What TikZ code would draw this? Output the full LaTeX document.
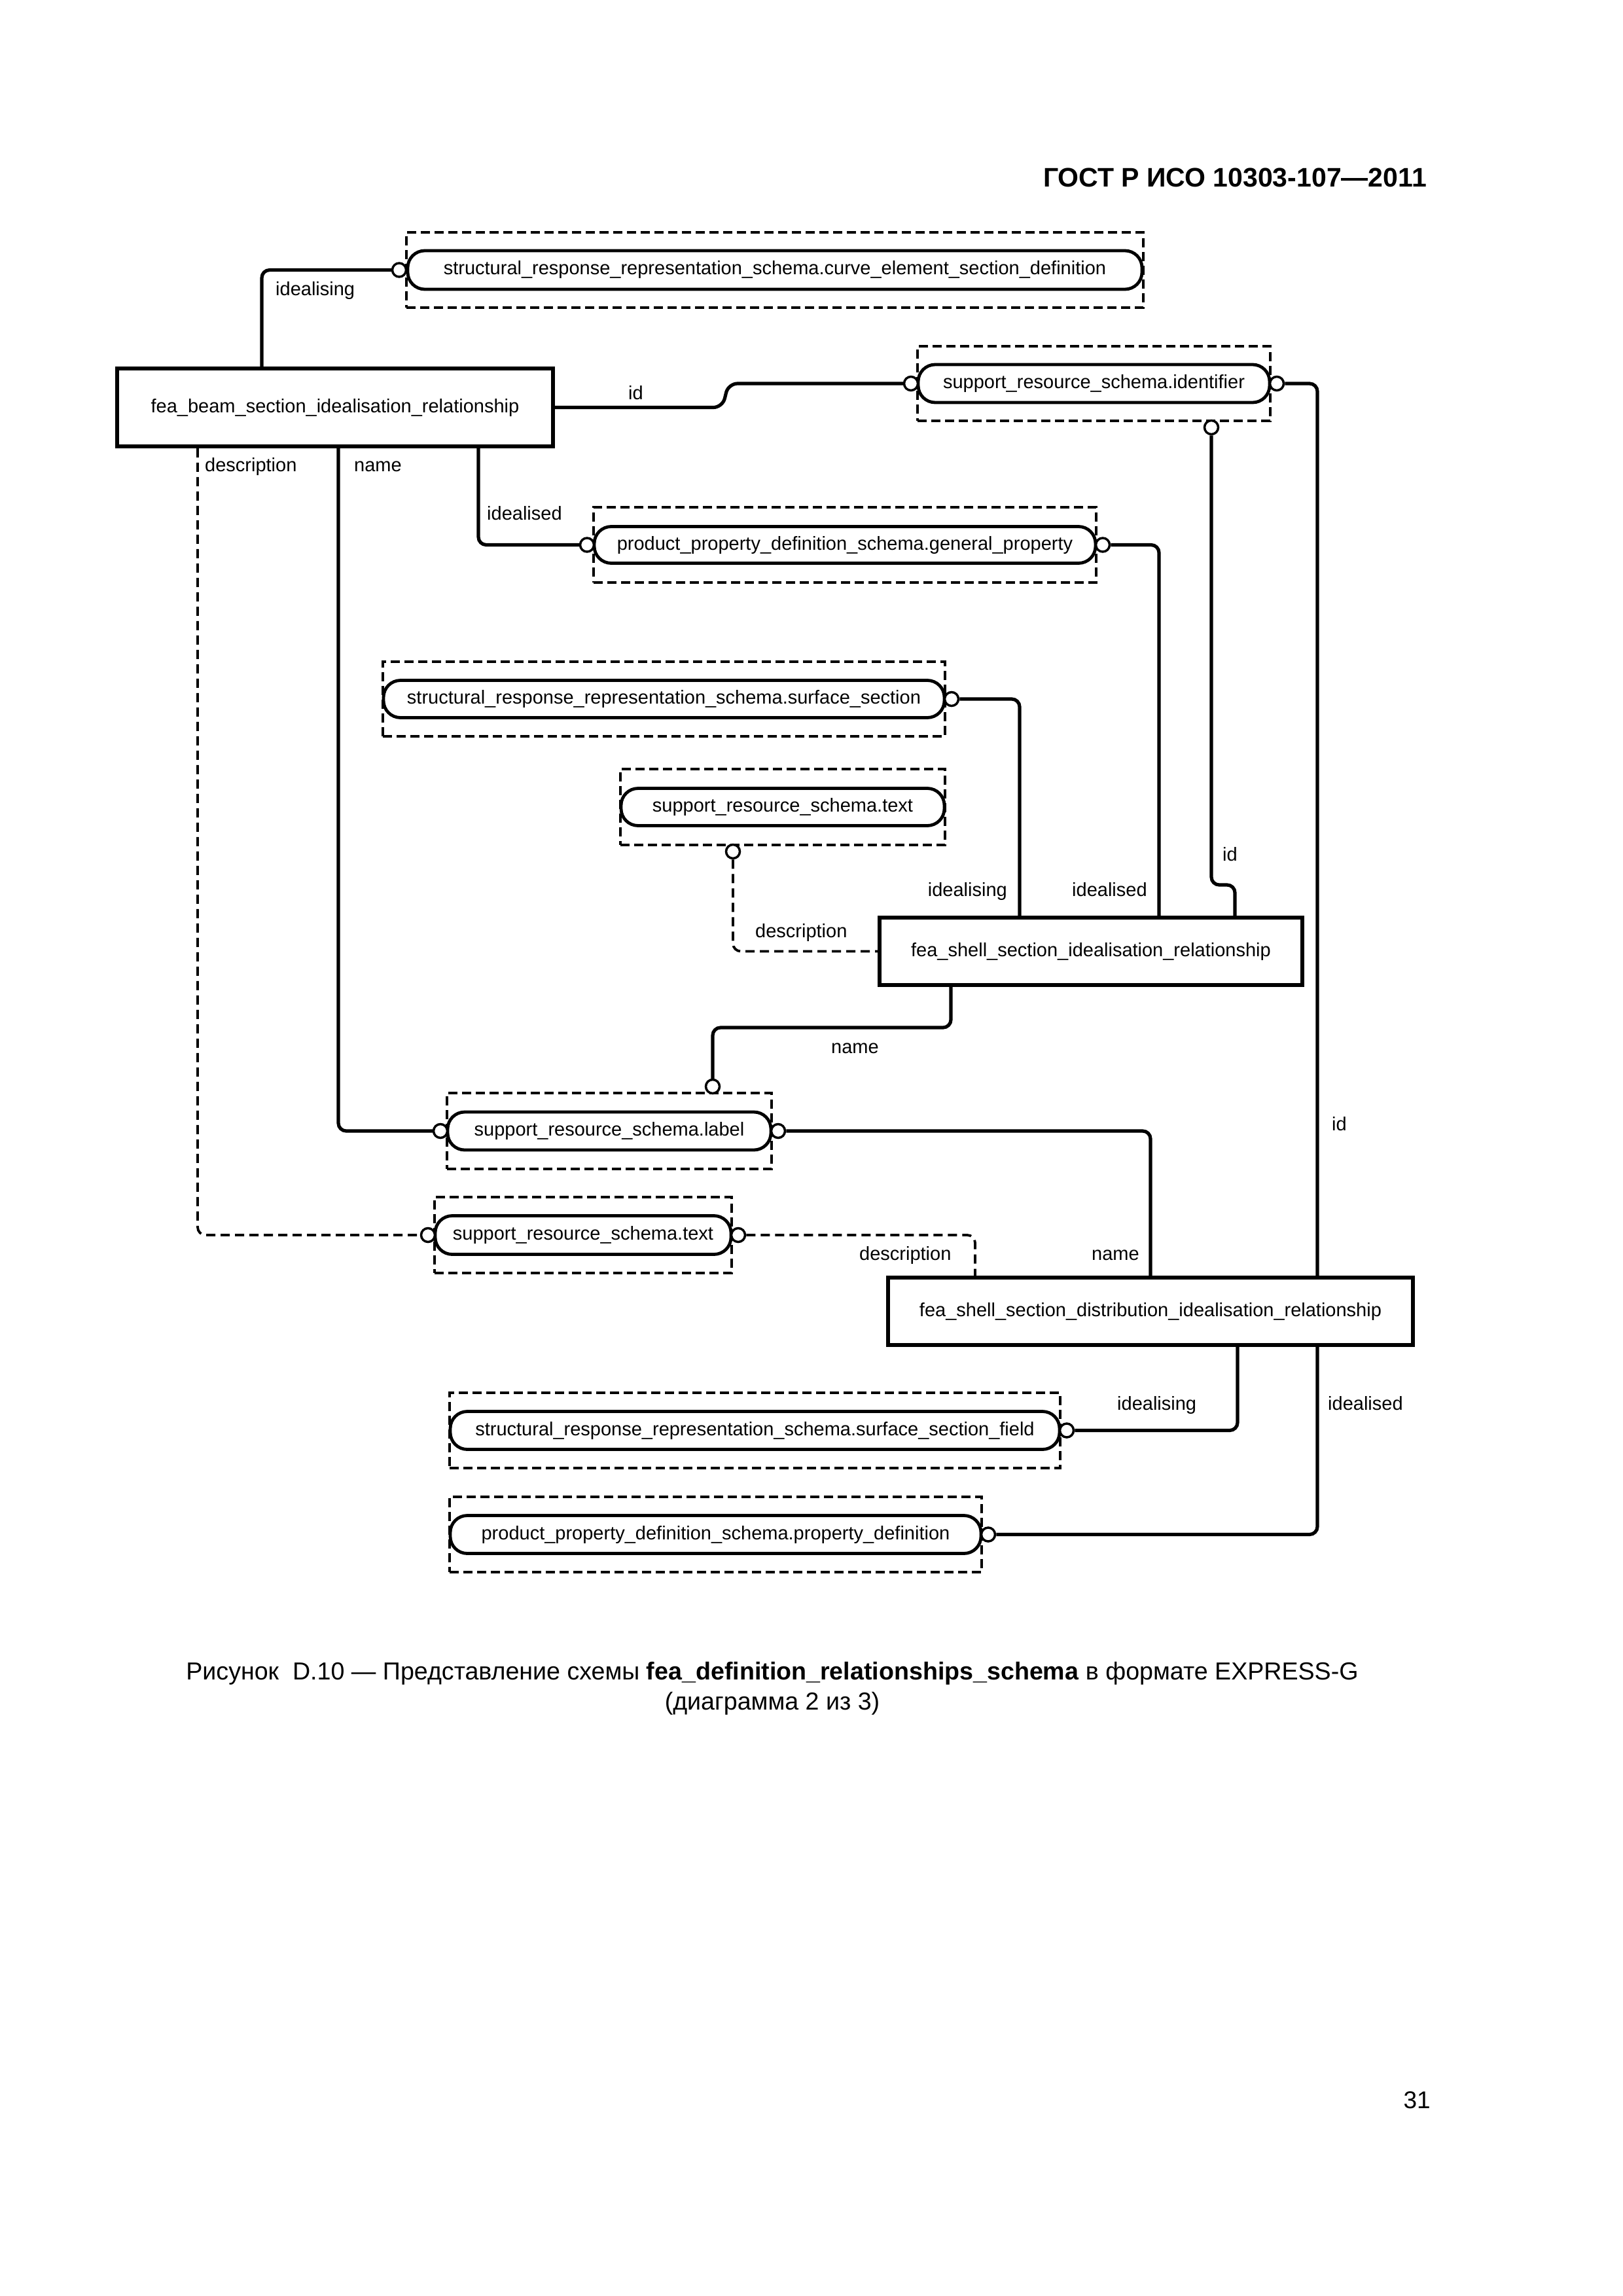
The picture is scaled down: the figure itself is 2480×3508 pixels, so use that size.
\documentclass[tikz,border=0pt]{standalone}
\usepackage{fontspec}
\setmainfont{Liberation Sans}
\newcommand{\dgfont}{\fontsize{29pt}{34pt}\selectfont}
\newcommand{\capfont}{\fontsize{37.6pt}{44pt}\selectfont}
\begin{document}
\begin{tikzpicture}[x=1pt,y=-1pt,
  entity/.style={draw, line width=5.5pt, fill=white, inner sep=0pt, font=\dgfont},
  schemabox/.style={draw, line width=3.2pt, dash pattern=on 14pt off 7pt, inner sep=0pt},
  pill/.style={draw, line width=4.8pt, rounded corners=26pt, fill=white, inner sep=0pt, font=\dgfont},
  ring/.style={circle, draw, line width=3.5pt, fill=white, minimum size=21pt, inner sep=0pt},
  conn/.style={line width=5.2pt, rounded corners=12pt},
  dconn/.style={conn, line width=3.8pt, dash pattern=on 14pt off 8pt},
  lab/.style={font=\dgfont, inner sep=0pt}]
\useasboundingbox (0,0) rectangle (2480,3508);

% header and page number
\node[anchor=base east, inner sep=0pt, font=\fontsize{41pt}{48pt}\selectfont\bfseries] (hdr) at (2180,285) {ГОСТ Р ИСО 10303-107—2011};
\node[anchor=base east, inner sep=0pt, font=\fontsize{37pt}{44pt}\selectfont] (pg) at (2186,3221) {31};

% entities
\node[entity, minimum width=666pt, minimum height=119pt] (B) at (512,622.5) {fea\_beam\_section\_idealisation\_relationship};
\node[entity, minimum width=646pt, minimum height=103pt] (S) at (1667,1453.5) {fea\_shell\_section\_idealisation\_relationship};
\node[entity, minimum width=802pt, minimum height=103pt] (D) at (1758,2003.5) {fea\_shell\_section\_distribution\_idealisation\_relationship};

% schema boxes (dashed) and referenced types (pills)
\node[schemabox, minimum width=1126pt, minimum height=115pt] (s1) at (1184,412.5) {};
\node[pill, minimum width=1122pt, minimum height=59pt] (p1) at (1184,412.5) {structural\_response\_representation\_schema.curve\_element\_section\_definition};

\node[schemabox, minimum width=539pt, minimum height=114pt] (s2) at (1671.5,586) {};
\node[pill, minimum width=537pt, minimum height=58pt] (p2) at (1671.5,586) {support\_resource\_schema.identifier};

\node[schemabox, minimum width=768pt, minimum height=115pt] (s3) at (1291,832.5) {};
\node[pill, minimum width=766pt, minimum height=56pt] (p3) at (1291,832.5) {product\_property\_definition\_schema.general\_property};

\node[schemabox, minimum width=859pt, minimum height=114pt] (s4) at (1014.5,1068) {};
\node[pill, minimum width=857pt, minimum height=57pt] (p4) at (1014.5,1068) {structural\_response\_representation\_schema.surface\_section};

\node[schemabox, minimum width=496pt, minimum height=116pt] (s5) at (1196,1233) {};
\node[pill, minimum width=494pt, minimum height=57pt] (p5) at (1196,1233) {support\_resource\_schema.text};

\node[schemabox, minimum width=496pt, minimum height=116pt] (s6) at (931,1728) {};
\node[pill, minimum width=494pt, minimum height=58pt] (p6) at (931,1728) {support\_resource\_schema.label};

\node[schemabox, minimum width=454pt, minimum height=116pt] (s7) at (891,1887) {};
\node[pill, minimum width=452pt, minimum height=59pt] (p7) at (891,1887) {support\_resource\_schema.text};

\node[schemabox, minimum width=933pt, minimum height=115pt] (s8) at (1153.5,2185.5) {};
\node[pill, minimum width=931pt, minimum height=58pt] (p8) at (1153.5,2185.5) {structural\_response\_representation\_schema.surface\_section\_field};

\node[schemabox, minimum width=813pt, minimum height=115pt] (s9) at (1093.5,2344.5) {};
\node[pill, minimum width=811pt, minimum height=58pt] (p9) at (1093.5,2344.5) {product\_property\_definition\_schema.property\_definition};

% rings
\node[ring] (r1) at (610,412.5) {};
\node[ring] (r2l) at (1392,586) {};
\node[ring] (r2r) at (1951,586) {};
\node[ring] (r2b) at (1851,653) {};
\node[ring] (r3l) at (897,832.5) {};
\node[ring] (r3r) at (1685,832.5) {};
\node[ring] (r4) at (1454,1068) {};
\node[ring] (r5) at (1120,1301) {};
\node[ring] (r6l) at (673,1728) {};
\node[ring] (r6r) at (1189,1728) {};
\node[ring] (r6t) at (1089,1660) {};
\node[ring] (r7l) at (654,1887) {};
\node[ring] (r7r) at (1128,1887) {};
\node[ring] (r8) at (1630,2185.5) {};
\node[ring] (r9) at (1510,2344.5) {};

% helper coordinates
\coordinate (k1) at (400,0);
\coordinate (k3) at (2013,0);
\coordinate (k4) at (1887,1352);
\coordinate (k5) at (731,0);
\coordinate (k6) at (1771,0);
\coordinate (k7) at (1558,0);
\coordinate (k9) at (1453,1570);
\coordinate (k10) at (517,0);
\coordinate (k11) at (1758,0);
\coordinate (k12) at (302,0);
\coordinate (k13) at (1490,0);
\coordinate (k14) at (1891,0);
\coordinate (j1) at (1104,622.5);
\coordinate (j2) at (1113,586);

% connectors
\draw[conn] (B.north -| k1) |- (r1.west);
\draw[conn, rounded corners=14pt] (B.east) -- (j1) -- (j2) -- (r2l.west);
\draw[conn] (r2r.east) -| (D.north -| k3);
\draw[conn] (r2b.south) |- (k4) -- (S.north -| k4);
\draw[conn] (B.south -| k5) |- (r3l.west);
\draw[conn] (r3r.east) -| (S.north -| k6);
\draw[conn] (r4.east) -| (S.north -| k7);
\draw[dconn] (r5.south) |- (S.west);
\draw[conn] (S.south -| k9) -- (k9) -| (r6t.north);
\draw[conn] (B.south -| k10) |- (r6l.west);
\draw[conn] (r6r.east) -| (D.north -| k11);
\draw[dconn] (B.south -| k12) |- (r7l.west);
\draw[dconn] (r7r.east) -| (D.north -| k13);
\draw[conn] (D.south -| k14) |- (r8.east);
\draw[conn] (D.south -| k3) |- (r9.east);

% connector labels
\node[lab, anchor=base west] (l1) at (421,451) {idealising};
\node[lab, anchor=base west] (l2) at (960,610) {id};
\node[lab, anchor=base west] (l3) at (313,720) {description};
\node[lab, anchor=base west] (l4) at (541,720) {name};
\node[lab, anchor=base west] (l5) at (744,794) {idealised};
\node[lab, anchor=base east] (l6) at (1539,1369) {idealising};
\node[lab, anchor=base west] (l7) at (1638,1369) {idealised};
\node[lab, anchor=base west] (l8) at (1868,1315) {id};
\node[lab, anchor=base west] (l9) at (1154,1432) {description};
\node[lab, anchor=base west] (l10) at (1270,1609) {name};
\node[lab, anchor=base west] (l11) at (2035,1727) {id};
\node[lab, anchor=base west] (l12) at (1313,1925) {description};
\node[lab, anchor=base west] (l13) at (1668,1925) {name};
\node[lab, anchor=base west] (l14) at (1707,2154) {idealising};
\node[lab, anchor=base west] (l15) at (2029,2154) {idealised};

% caption
\node[anchor=base, inner sep=0pt, font=\capfont] (cap1) at (1180,2566) {Рисунок~~D.10 — Представление схемы \textbf{fea\_definition\_relationships\_schema} в формате EXPRESS-G};
\node[anchor=base, inner sep=0pt, font=\capfont] (cap2) at (1180,2612) {(диаграмма 2 из 3)};
\end{tikzpicture}
\end{document}
